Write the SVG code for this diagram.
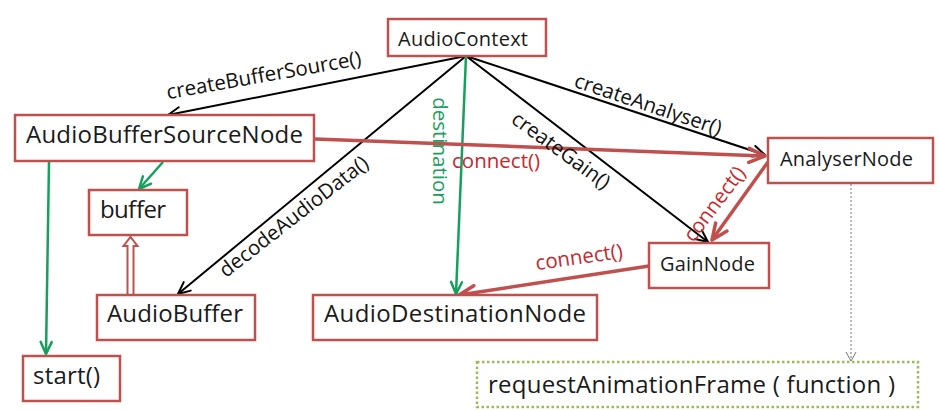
<svg xmlns="http://www.w3.org/2000/svg" width="939" height="411" viewBox="0 0 939 411">
<style>
.box{fill:#fff;stroke:#C0504D;stroke-width:2.5}
.lbl{font-family:"Open Sans","DejaVu Sans",sans-serif;fill:#1a1a1a}
.big{font-size:24px}
.mid{font-size:20px}
.edge{font-family:"Open Sans","DejaVu Sans",sans-serif;font-size:20.5px}
.blk{stroke:#000;stroke-width:2;fill:none}
.grn{stroke:#16A05D;stroke-width:2.5;fill:none}
.red{stroke:#C0504D;stroke-width:3.5;fill:none}
.rt{fill:#C4282C}
.gt{fill:#16A05D}
.kt{fill:#111}
</style>
<defs>
<marker id="mb" markerUnits="userSpaceOnUse" markerWidth="16" markerHeight="14" refX="14" refY="7" orient="auto">
<path d="M2,1.5 L14,7 L2,12.5" fill="none" stroke="#000" stroke-width="2" stroke-linejoin="round" stroke-linecap="round"/>
</marker>
<marker id="mg" markerUnits="userSpaceOnUse" markerWidth="16" markerHeight="14" refX="14" refY="7" orient="auto">
<path d="M2,1.5 L14,7 L2,12.5" fill="none" stroke="#16A05D" stroke-width="2.5" stroke-linejoin="round" stroke-linecap="round"/>
</marker>
<marker id="mr" markerUnits="userSpaceOnUse" markerWidth="20" markerHeight="18" refX="18" refY="9" orient="auto">
<path d="M2,2 L18,9 L2,16" fill="none" stroke="#C0504D" stroke-width="3.5" stroke-linejoin="round" stroke-linecap="round"/>
</marker>
<marker id="mk" markerUnits="userSpaceOnUse" markerWidth="12" markerHeight="12" refX="10" refY="6" orient="auto">
<path d="M1,1 L10,6 L1,11" fill="none" stroke="#777" stroke-width="1"/>
</marker>
</defs>
<rect width="939" height="411" fill="#fff"/>

<g id="connectors">
<line class="blk" x1="466" y1="56" x2="168" y2="115" marker-end="url(#mb)"/>
<line class="blk" x1="466" y1="56" x2="178" y2="294" marker-end="url(#mb)"/>
<line class="blk" x1="466" y1="56" x2="708" y2="242" marker-end="url(#mb)"/>
<line class="blk" x1="466" y1="56" x2="765" y2="155" marker-end="url(#mb)"/>
<line class="grn" x1="466" y1="56" x2="456" y2="294" marker-end="url(#mg)"/>
<line class="grn" x1="163" y1="162" x2="139" y2="189" marker-end="url(#mg)"/>
<line class="grn" x1="49" y1="162" x2="46" y2="354" marker-end="url(#mg)"/>
<line class="red" x1="315" y1="139" x2="765" y2="156" marker-end="url(#mr)"/>
<line class="red" x1="768" y1="162" x2="712" y2="240" marker-end="url(#mr)"/>
<line class="red" x1="649" y1="266" x2="459" y2="295" marker-end="url(#mr)"/>
<polygon points="127.5,295 127.5,246 123.5,246 130.5,237 137.5,246 133.5,246 133.5,295" fill="#fff" stroke="#C0504D" stroke-width="2"/>
<line x1="851" y1="184" x2="851" y2="361" stroke="#777" stroke-width="1" stroke-dasharray="2 2" marker-end="url(#mk)"/>

<text class="edge kt" x="265" y="82" text-anchor="middle" transform="rotate(-10 265 82)">createBufferSource()</text>
<text class="edge kt" x="298" y="222" text-anchor="middle" transform="rotate(-38 298 222)">decodeAudioData()</text>
<text class="edge gt" x="433" y="151" text-anchor="middle" transform="rotate(90 433 151)">destination</text>
<text class="edge kt" x="557" y="156" text-anchor="middle" transform="rotate(36 557 156)">createGain()</text>
<text class="edge kt" x="646" y="111" text-anchor="middle" transform="rotate(18.5 646 111)">createAnalyser()</text>
<text class="edge rt" x="452" y="168">connect()</text>
<text class="edge rt" x="720" y="208" text-anchor="middle" transform="rotate(-53 720 208)">connect()</text>
<text class="edge rt" x="580" y="264" text-anchor="middle" transform="rotate(-8 580 264)">connect()</text>
</g>

<g id="node-audiocontext">
<rect class="box" x="388" y="19" width="158" height="37"/>
<text class="lbl mid" x="398" y="46" textLength="130">AudioContext</text>
</g>
<g id="node-audiobuffersourcenode">
<rect class="box" x="15" y="115" width="299" height="46"/>
<text class="lbl big" x="26" y="143" textLength="277">AudioBufferSourceNode</text>
</g>
<g id="node-buffer">
<rect class="box" x="89" y="190" width="98" height="45"/>
<text class="lbl big" x="100" y="218" textLength="66">buffer</text>
</g>
<g id="node-audiobuffer">
<rect class="box" x="97" y="295" width="158" height="45"/>
<text class="lbl big" x="107" y="322" textLength="136">AudioBuffer</text>
</g>
<g id="node-start">
<rect class="box" x="23" y="356" width="97" height="45"/>
<text class="lbl big" x="33" y="384" textLength="67">start()</text>
</g>
<g id="node-audiodestinationnode">
<rect class="box" x="313" y="295" width="284" height="45"/>
<text class="lbl big" x="324" y="322" textLength="262">AudioDestinationNode</text>
</g>
<g id="node-gainnode">
<rect class="box" x="649" y="243" width="120" height="45"/>
<text class="lbl mid" x="660" y="271" textLength="95">GainNode</text>
</g>
<g id="node-analysernode">
<rect class="box" x="768" y="138" width="165" height="45"/>
<text class="lbl mid" x="780" y="166" textLength="133">AnalyserNode</text>
</g>
<g id="node-requestanimationframe">
<rect x="477" y="362" width="441" height="45" fill="#fff" stroke="#9BBB59" stroke-width="2.5" stroke-dasharray="2.5 2.5"/>
<text class="lbl big" x="488" y="393" textLength="407">requestAnimationFrame ( function )</text>
</g>
</svg>
